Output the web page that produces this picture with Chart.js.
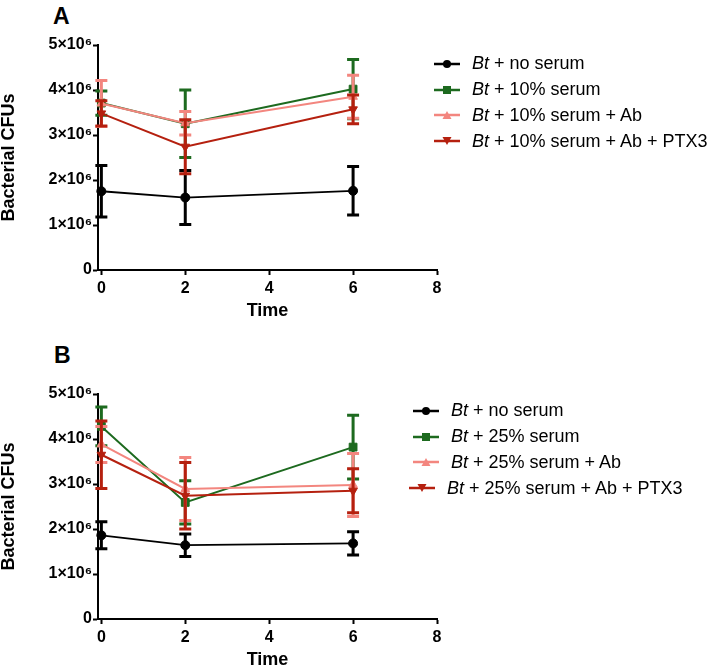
<!DOCTYPE html>
<html>
<head>
<meta charset="utf-8">
<script src="https://cdn.jsdelivr.net/npm/chart.js@4.4.1/dist/chart.umd.min.js"></script>
<style>
  html, body { margin: 0; padding: 0; background: #fff; }
  body { width: 709px; height: 669px; position: relative; overflow: hidden;
         font-family: "Liberation Sans", Arial, sans-serif; }
  canvas { position: absolute; left: 0; }
  #chartA { top: 0; }
  #chartB { top: 349px; }
  .panel { position: absolute; font-weight: bold; font-size: 23px; line-height: 1; }
  .legend { position: absolute; font-size: 18px; color: #000; }
  .legend .row { display: flex; align-items: center; height: 25.8px; white-space: nowrap; }
  .legend svg { margin-right: 12px; flex: none; }
</style>
</head>
<body>
<div class="panel" style="left:53px;top:5px">A</div>
<div class="panel" style="left:54px;top:344px">B</div>
<canvas id="chartA" width="709" height="320"></canvas>
<canvas id="chartB" width="709" height="320"></canvas>
<div class="legend" id="legendA" style="left:434px;top:51px"></div>
<div class="legend" id="legendB" style="left:413px;top:398px"></div>
<script>
'use strict';

// time points (x)
const TIMES = [0, 2, 6];
const X_TICKS = [0, 2, 4, 6, 8];
const Y_TICKS = [0, 1e6, 2e6, 3e6, 4e6, 5e6];

// panel A: 10% serum
const A_LABELS = ['+ no serum', '+ 10% serum', '+ 10% serum + Ab', '+ 10% serum + Ab + PTX3'];
const A_NO_SERUM = [1.75e6, 1.61e6, 1.76e6];
const A_NO_SERUM_SD = [0.57e6, 0.60e6, 0.54e6];
const A_SERUM = [3.71e6, 3.25e6, 4.02e6];
const A_SERUM_SD = [0.27e6, 0.75e6, 0.66e6];
const A_SERUM_AB = [3.70e6, 3.26e6, 3.85e6];
const A_SERUM_AB_SD = [0.51e6, 0.26e6, 0.48e6];
const A_SERUM_AB_PTX3 = [3.48e6, 2.74e6, 3.57e6];
const A_SERUM_AB_PTX3_SD = [0.28e6, 0.60e6, 0.32e6];

// panel B: 25% serum
const B_LABELS = ['+ no serum', '+ 25% serum', '+ 25% serum + Ab', '+ 25% serum + Ab + PTX3'];
const B_NO_SERUM = [1.86e6, 1.64e6, 1.68e6];
const B_NO_SERUM_SD = [0.30e6, 0.25e6, 0.26e6];
const B_SERUM = [4.28e6, 2.59e6, 3.82e6];
const B_SERUM_SD = [0.43e6, 0.48e6, 0.71e6];
const B_SERUM_AB = [3.88e6, 2.89e6, 2.98e6];
const B_SERUM_AB_SD = [0.40e6, 0.70e6, 0.70e6];
const B_SERUM_AB_PTX3 = [3.65e6, 2.74e6, 2.85e6];
const B_SERUM_AB_PTX3_SD = [0.75e6, 0.74e6, 0.49e6];

const COLORS = ['#000000', '#1d6a1f', '#f3867f', '#b5200f'];
const STYLES = [
  { pointStyle: 'circle', radius: 4.5, rotation: 0, width: 1.8 },
  { pointStyle: 'rect', radius: 5.5, rotation: 0, width: 2 },
  { pointStyle: 'triangle', radius: 5, rotation: 0, width: 2 },
  { pointStyle: 'triangle', radius: 5, rotation: 180, width: 2 }
];

Chart.defaults.font.family = '"Liberation Sans", Arial, sans-serif';
Chart.defaults.color = '#000';

const errorBars = {
  id: 'errorBars',
  beforeDatasetDraw(chart, args) {
    const ds = chart.data.datasets[args.index];
    if (!ds.errors) return;
    const { ctx } = chart;
    const y = chart.scales.y;
    ctx.save();
    ctx.strokeStyle = ds.borderColor;
    ctx.lineWidth = 3;
    ctx.lineCap = 'butt';
    args.meta.data.forEach((pt, i) => {
      const v = ds.data[i].y;
      const e = ds.errors[i];
      const top = y.getPixelForValue(v + e);
      const bot = y.getPixelForValue(v - e);
      ctx.beginPath();
      ctx.moveTo(pt.x, top);
      ctx.lineTo(pt.x, bot);
      ctx.moveTo(pt.x - 6, top);
      ctx.lineTo(pt.x + 6, top);
      ctx.moveTo(pt.x - 6, bot);
      ctx.lineTo(pt.x + 6, bot);
      ctx.stroke();
    });
    ctx.restore();
  }
};

function makeDataset(label, values, sds, idx) {
  const s = STYLES[idx];
  return {
    label,
    data: TIMES.map((t, i) => ({ x: t, y: values[i] })),
    errors: sds,
    borderColor: COLORS[idx],
    backgroundColor: COLORS[idx],
    borderWidth: s.width,
    pointStyle: s.pointStyle,
    pointRadius: s.radius,
    pointRotation: s.rotation,
    pointBorderWidth: 1,
    tension: 0,
    order: 3 - idx,
    clip: false
  };
}

function yLabel(v) {
  return v === 0 ? '0' : `${v / 1e6}×10⁶`;
}

function makeChart(id, datasets) {
  return new Chart(document.getElementById(id), {
    type: 'line',
    data: { datasets },
    plugins: [errorBars],
    options: {
      responsive: false,
      animation: false,
      layout: { padding: { left: 0, right: 272, top: 45, bottom: 0 } },
      plugins: { legend: { display: false }, tooltip: { enabled: false } },
      scales: {
        x: {
          type: 'linear',
          min: -0.08,
          max: 8,
          afterBuildTicks: s => { s.ticks = X_TICKS.map(v => ({ value: v })); },
          afterFit: s => { s.height = 50; },
          grid: { drawOnChartArea: false, tickLength: 5, tickWidth: 2, tickColor: '#000' },
          border: { color: '#000', width: 2 },
          ticks: { font: { size: 16, weight: 'bold' }, padding: 4, maxRotation: 0 },
          title: { display: true, text: 'Time', font: { size: 18, weight: 'bold', lineHeight: 1 },
                   padding: { top: 0, bottom: 0 } }
        },
        y: {
          min: 0,
          max: 5e6,
          afterBuildTicks: s => { s.ticks = Y_TICKS.map(v => ({ value: v })); },
          afterFit: s => { s.width = 98; },
          grid: { drawOnChartArea: false, tickLength: 5, tickWidth: 2, tickColor: '#000' },
          border: { color: '#000', width: 2 },
          ticks: { font: { size: 16, weight: 'bold' }, padding: 1, callback: yLabel },
          title: { display: true, text: 'Bacterial CFUs', font: { size: 18, weight: 'bold', lineHeight: 1 },
                   padding: { top: 0, bottom: 0 } }
        }
      }
    }
  });
}

function buildLegend(id, labels, lastShift) {
  const box = document.getElementById(id);
  box.innerHTML = labels.map((lab, i) => {
    const s = STYLES[i];
    const c = COLORS[i];
    let mark;
    if (s.pointStyle === 'circle') mark = `<circle cx="13" cy="7" r="4" fill="${c}"/>`;
    else if (s.pointStyle === 'rect') mark = `<rect x="9" y="3" width="8" height="8" fill="${c}"/>`;
    else if (s.rotation === 180) mark = `<polygon points="8.5,3 17.5,3 13,11" fill="${c}"/>`;
    else mark = `<polygon points="8.5,11 17.5,11 13,3" fill="${c}"/>`;
    const shift = i === labels.length - 1 ? lastShift : 0;
    return `<div class="row" style="margin-left:${shift}px">` +
      `<svg width="26" height="14"><line x1="0" y1="7" x2="26" y2="7" stroke="${c}" stroke-width="2.5"/>${mark}</svg>` +
      `<span><i>Bt</i> ${lab}</span></div>`;
  }).join('');
}

makeChart('chartA', [
  makeDataset(A_LABELS[0], A_NO_SERUM, A_NO_SERUM_SD, 0),
  makeDataset(A_LABELS[1], A_SERUM, A_SERUM_SD, 1),
  makeDataset(A_LABELS[2], A_SERUM_AB, A_SERUM_AB_SD, 2),
  makeDataset(A_LABELS[3], A_SERUM_AB_PTX3, A_SERUM_AB_PTX3_SD, 3)
]);

makeChart('chartB', [
  makeDataset(B_LABELS[0], B_NO_SERUM, B_NO_SERUM_SD, 0),
  makeDataset(B_LABELS[1], B_SERUM, B_SERUM_SD, 1),
  makeDataset(B_LABELS[2], B_SERUM_AB, B_SERUM_AB_SD, 2),
  makeDataset(B_LABELS[3], B_SERUM_AB_PTX3, B_SERUM_AB_PTX3_SD, 3)
]);

buildLegend('legendA', A_LABELS, 0);
buildLegend('legendB', B_LABELS, -4);
</script>
</body>
</html>
